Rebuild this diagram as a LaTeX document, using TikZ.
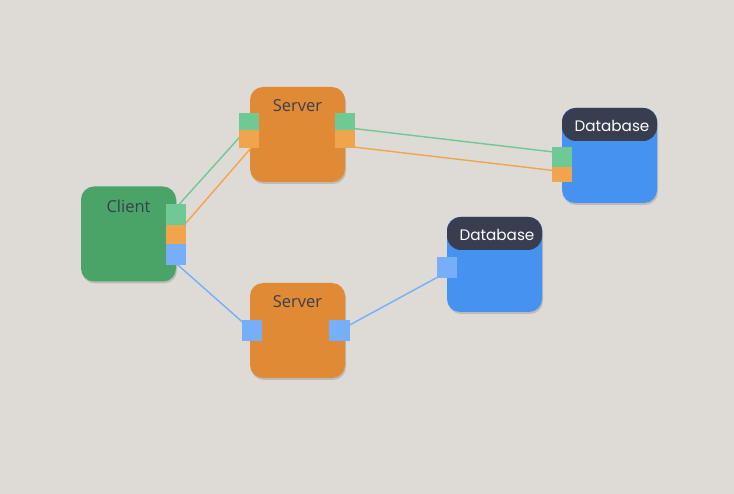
\documentclass[tikz,border=0pt]{standalone}
\usepackage{fontspec}
\setmainfont{Open Sans}
\newfontfamily\dbfont{Poppins}
\usetikzlibrary{positioning,shadows}
\definecolor{bggray}{RGB}{222,219,215}
\definecolor{clientgreen}{RGB}{74,164,104}
\definecolor{serverorange}{RGB}{225,138,53}
\definecolor{dbblue}{RGB}{69,146,240}
\definecolor{headdark}{RGB}{56,61,79}
\definecolor{txtdark}{RGB}{58,63,78}
\definecolor{pgreen}{RGB}{111,201,149}
\definecolor{porange}{RGB}{240,165,76}
\definecolor{pblue}{RGB}{118,175,248}

\begin{document}
\begin{tikzpicture}[x=1pt,y=1pt,
    box/.style={rectangle,rounded corners=13pt,minimum width=95pt,minimum height=95pt,inner sep=0pt,
      drop shadow={shadow xshift=1pt,shadow yshift=-2pt,opacity=.35}},
    head/.style={rectangle,rounded corners=14pt,fill=headdark,minimum width=95pt,minimum height=33pt,inner sep=0pt,anchor=north},
    lbl/.style={font=\fontsize{16.5}{18}\selectfont,text=txtdark,inner sep=0pt},
    dblbl/.style={font=\dbfont\fontsize{15.2}{17}\selectfont,text=white,inner sep=0pt},
    port/.style={rectangle,minimum width=20pt,minimum height=20pt,inner sep=0pt},
    wire/.style={line width=1.4pt}]

    \fill[bggray] (0,0) rectangle (734,-494);
    \useasboundingbox (0,0) rectangle (734,-494);

    % Boxes
    \node[box,fill=clientgreen] (client) at (128.5,-234) {};
    \node[box,fill=serverorange] (srvA) at (297.5,-134.5) {};
    \node[box,fill=serverorange] (srvB) at (297.5,-330.5) {};
    \node[box,fill=dbblue] (dbA) at (609.5,-155.5) {};
    \node[box,fill=dbblue] (dbB) at (494.5,-264.5) {};
    \node[head] (dbAhead) at (dbA.north) {};
    \node[head] (dbBhead) at (dbB.north) {};

    % Labels
    \node[lbl] (clientlbl) at ([yshift=-20pt]client.north) {Client};
    \node[lbl] (srvAlbl) at ([yshift=-19pt]srvA.north) {Server};
    \node[lbl] (srvBlbl) at ([yshift=-19pt]srvB.north) {Server};
    \node[dblbl] (dbAlbl) at ([xshift=2.5pt,yshift=-1pt]dbAhead.center) {Database};
    \node[dblbl] (dbBlbl) at ([xshift=2.5pt,yshift=-1pt]dbBhead.center) {Database};

    % Ports
    \coordinate (cg) at (176,-214.5);
    \coordinate (co) at (176,-234.5);
    \coordinate (cb) at (176,-254.5);
    \coordinate (sag) at (249,-121.5);
    \coordinate (sao) at (249,-139);
    \coordinate (sbg) at (345,-121.5);
    \coordinate (sbo) at (345,-139);
    \coordinate (dag) at (562,-157);
    \coordinate (dao) at (562,-174.5);
    \coordinate (tal) at (252,-330.5);
    \coordinate (tar) at (339.5,-330.5);
    \coordinate (dbp) at (447,-267.5);

    % Wires (under the ports)
    \draw[wire,pgreen] ([xshift=-6pt]cg) -- ([xshift=-2pt,yshift=-7.5pt]sag);
    \draw[wire,porange] (co) -- ([xshift=2pt,yshift=-9pt]sao);
    \draw[wire,pblue] ([xshift=-10pt]cb) -- (tal);
    \draw[wire,pgreen] ([yshift=-6pt]sbg) -- ([yshift=4pt]dag);
    \draw[wire,porange] ([yshift=-7pt]sbo) -- ([yshift=3pt]dao);
    \draw[wire,pblue] (tar) -- ([xshift=-10pt,yshift=-10pt]dbp);

    \node[port,fill=pgreen,minimum height=21pt] (clientg) at (cg) {};
    \node[port,fill=porange,minimum height=19pt] (cliento) at (co) {};
    \node[port,fill=pblue,minimum height=21pt] (clientb) at (cb) {};
    \node[port,fill=pgreen,minimum height=17pt] (srvAinG) at (sag) {};
    \node[port,fill=porange,minimum height=18pt] (srvAinO) at (sao) {};
    \node[port,fill=pgreen,minimum height=17pt] (srvAoutG) at (sbg) {};
    \node[port,fill=porange,minimum height=18pt] (srvAoutO) at (sbo) {};
    \node[port,fill=pgreen] (dbAinG) at (dag) {};
    \node[port,fill=porange,minimum height=15pt] (dbAinO) at (dao) {};
    \node[port,fill=pblue,minimum height=21pt] (srvBin) at (tal) {};
    \node[port,fill=pblue,minimum width=21pt,minimum height=21pt] (srvBout) at (tar) {};
    \node[port,fill=pblue,minimum height=21pt] (dbBin) at (dbp) {};
\end{tikzpicture}
\end{document}
